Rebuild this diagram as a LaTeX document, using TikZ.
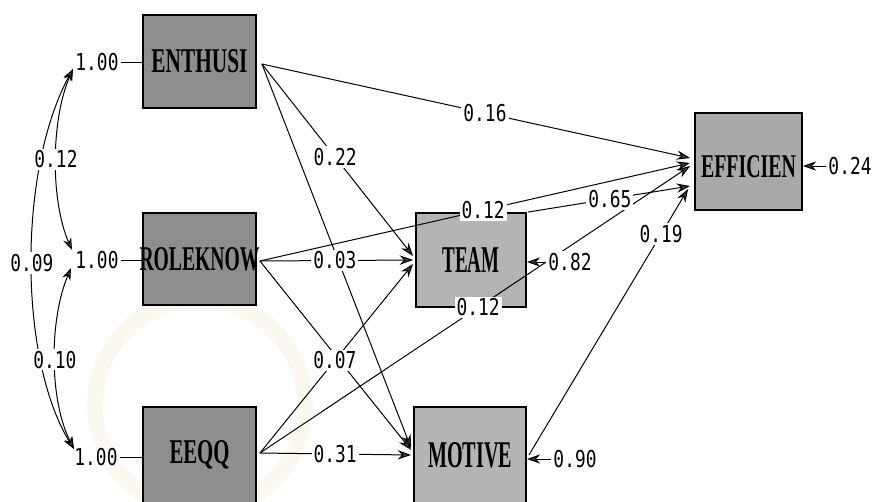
\documentclass[tikz,border=0pt]{standalone}
\usepackage{fontspec}
\setmainfont{Liberation Serif}
\newfontfamily\valfont{DejaVu Sans Mono}
\usetikzlibrary{arrows.meta}

\definecolor{exobox}{HTML}{8E8E8E}
\definecolor{endobox}{HTML}{B4B4B4}
\definecolor{effbox}{HTML}{A9A9A9}
\definecolor{tipgray}{HTML}{3C3C3C}
\definecolor{seal}{HTML}{FAF8EF}

% condensed bold variable name, zero width so it never widens its box
\newcommand{\varname}[3]{\makebox[0pt]{\resizebox{#1}{#2}{\bfseries #3}}}
% tall narrow coefficient text
\newcommand{\coef}[1]{{\valfont\fontsize{13.4pt}{14pt}\selectfont\scalebox{1}[1.3]{#1}}}

\begin{document}
\begin{tikzpicture}[x=0.75pt,y=-0.75pt,
  var/.style={draw=black,line width=1.4pt,inner sep=0pt},
  exo/.style={var,fill=exobox,minimum width=84.75pt},
  endo/.style={var,fill=endobox},
  link/.style={line width=0.75pt,-{Stealth[length=10pt,width=7pt,fill=tipgray]}},
  cov/.style={line width=0.75pt,{Stealth[length=9pt,width=6.5pt,fill=tipgray]}-{Stealth[length=9pt,width=6.5pt,fill=tipgray]}},
  plain/.style={line width=0.75pt},
  val/.style={fill=white,inner sep=1.5pt}
]
\useasboundingbox (0,0) rectangle (874,501);
\fill[white] (0,0) rectangle (874,501);

% faint seal in the background
\draw[seal,line width=12pt] (200,405) circle[radius=105];

% variables
\node[exo,minimum height=69.75pt] (ent) at (199.5,61.5) {\varname{72pt}{17.25pt}{ENTHUSI}};
\node[exo,minimum height=69pt] (role) at (199.5,259) {\varname{90pt}{17.25pt}{ROLEKNOW}};
\node[exo,minimum height=72pt] (eeqq) at (199.5,455) {\varname{45pt}{17.25pt}{EEQQ}};
\node[endo,minimum width=82.5pt,minimum height=70.5pt] (team) at (471,260) {\varname{42.75pt}{18.75pt}{TEAM}};
\node[endo,minimum width=84pt,minimum height=72pt] (mot) at (470,455) {\varname{63pt}{18.75pt}{MOTIVE}};
\node[var,fill=effbox,minimum width=80.25pt,minimum height=72.75pt] (eff) at (748.5,161.5)
  {\raisebox{-3.4pt}[16.5pt][0pt]{\varname{71.25pt}{16.5pt}{EFFICIEN}}};

% variances of the exogenous variables
\node[val] (v1) at (97,62) {\coef{1.00}};
\node[val] (v2) at (97,260) {\coef{1.00}};
\node[val] (v3) at (96,457) {\coef{1.00}};
\draw[plain] (v1.east) -- (v1.east -| ent.west);
\draw[plain] (v2.east) -- (v2.east -| role.west);
\draw[plain] (v3.east) -- (v3.east -| eeqq.west);

% end points of the covariance arcs
\coordinate (c1a) at ([shift={(-24,7)}]v1);
\coordinate (c2a) at ([shift={(-25,-10)}]v2);
\coordinate (c2b) at ([shift={(-26,8)}]v2);
\coordinate (c3a) at ([shift={(-22,-8)}]v3);

\draw[cov] (c1a) .. controls +(-22,50) and +(-22,-50) .. (c2a);
\draw[cov] (c1a) .. controls +(-55,100) and +(-56,-90) .. (c3a);
\draw[cov] (c2b) .. controls +(-22,52) and +(-25,-49) .. (c3a);

% end points of the paths
\coordinate (entout) at ([shift={(5,2.5)}]ent.east);
\coordinate (roleout) at ([shift={(3,2)}]role.east);
\coordinate (eeqqout) at ([shift={(3,-2)}]eeqq.east);
\coordinate (teamout) at ([shift={(1,0)}]team.north east);
\coordinate (motout) at ([shift={(2,0)}]mot.east);
\coordinate (teamin1) at ([shift={(-2,-4)}]team.west);
\coordinate (teamin2) at ([shift={(-2,0)}]team.west);
\coordinate (teamin3) at ([shift={(-2,4)}]team.west);
\coordinate (motin1) at ([shift={(-2,-7)}]mot.west);
\coordinate (motin2) at ([shift={(-2,-5)}]mot.west);
\coordinate (motin3) at ([shift={(-2,0)}]mot.west);
\coordinate (effin1) at ([shift={(-4,-3.5)}]eff.west);
\coordinate (effin2) at ([shift={(-4,1.5)}]eff.west);
\coordinate (effin3) at ([shift={(-4,4.5)}]eff.west);
\coordinate (effin4) at ([shift={(-4,24.5)}]eff.west);
\coordinate (effin5) at ([shift={(-6,27.5)}]eff.west);

% structural paths
\draw[link] (entout) -- (effin1);
\draw[link] (entout) -- (teamin1);
\draw[link] (entout) -- (motin1);
\draw[link] (roleout) -- (effin2);
\draw[link] (roleout) -- (teamin2);
\draw[link] (roleout) -- (motin2);
\draw[link] (eeqqout) -- (teamin3);
\draw[link] (eeqqout) -- (effin3);
\draw[link] (eeqqout) -- (motin3);
\draw[link] (teamout) -- (effin4);
\draw[link] (motout) -- (effin5);

% error variances
\node[val] (e1) at (570,262) {\coef{0.82}};
\node[val] (e2) at (575,459) {\coef{0.90}};
\node[val] (e3) at (850,166) {\coef{0.24}};
\draw[link] (e1.west) -- (e1.west -| team.east);
\draw[link] (e2.west) -- (e2.west -| mot.east);
\draw[link] (e3.west) -- (e3.west -| eff.east);

% coefficient labels, set on top of the lines
\path (c1a) .. controls +(-22,50) and +(-22,-50) .. (c2a) node[val,pos=0.5] {\coef{0.12}};
\path (c1a) .. controls +(-55,100) and +(-56,-90) .. (c3a) node[val,pos=0.5] {\coef{0.09}};
\path (c2b) .. controls +(-22,52) and +(-25,-49) .. (c3a) node[val,pos=0.5] {\coef{0.10}};
\path (entout) -- (effin1) node[val,pos=0.521] {\coef{0.16}};
\path (entout) -- (teamin1) node[val,pos=0.484] {\coef{0.22}};
\path (roleout) -- (effin2) node[val,pos=0.519] {\coef{0.12}};
\path (roleout) -- (teamin2) node[val,pos=0.49] {\coef{0.03}};
\path (eeqqout) -- (teamin3) node[val,pos=0.49] {\coef{0.07}};
\path (eeqqout) -- (effin3) node[val,pos=0.507] {\coef{0.12}};
\path (eeqqout) -- (motin3) node[val,pos=0.497] {\coef{0.31}};
\path (teamout) -- (effin4) node[val,pos=0.506] {\coef{0.65}};
\path (motout) -- (effin5) node[val,pos=0.83] {\coef{0.19}};
\end{tikzpicture}
\end{document}
